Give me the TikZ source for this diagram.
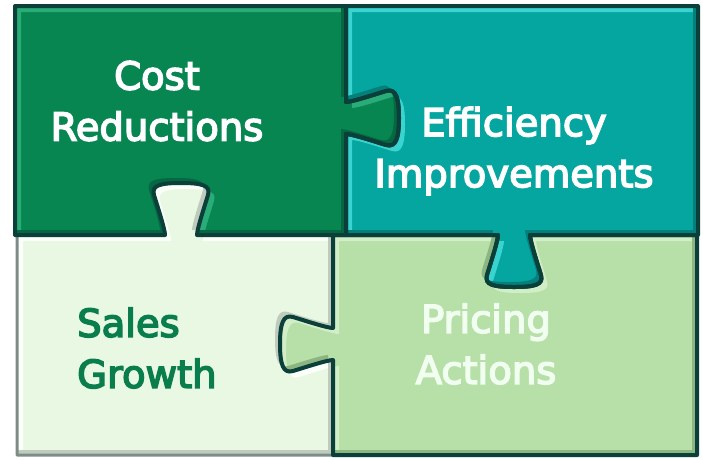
\documentclass[tikz,border=0pt]{standalone}
\usepackage{fontspec}
\newfontfamily\labelfont{DejaVu Sans}[FakeBold = 4]

\definecolor{costbase}{HTML}{078652}
\definecolor{costlight}{HTML}{2AAC78}
\definecolor{costdark}{HTML}{066842}
\definecolor{effbase}{HTML}{05A5A0}
\definecolor{efflight}{HTML}{3AD4D0}
\definecolor{effdark}{HTML}{04807C}
\definecolor{salesbase}{HTML}{E8F8E3}
\definecolor{saleslight}{HTML}{FBFFFA}
\definecolor{salesdark}{HTML}{BFCCBD}
\definecolor{pricebase}{HTML}{B7DFA8}
\definecolor{pricelight}{HTML}{D2EEC6}
\definecolor{pricedark}{HTML}{8DB582}
\definecolor{seam}{HTML}{0B3F3A}
\definecolor{salesrim}{HTML}{7E8C88}
\definecolor{salestext}{HTML}{0A7D4C}

% tab on a vertical edge: centre x, centre y, side (+1 right), run (+1 down)
\newcommand{\tabV}[4]{%
  -- ({#1},{#2-(#4)*16})
  .. controls ({#1+(#3)*6},{#2-(#4)*16}) and ({#1+(#3)*30},{#2-(#4)*24}) .. ({#1+(#3)*40},{#2-(#4)*27})
  .. controls ({#1+(#3)*50},{#2-(#4)*30}) and ({#1+(#3)*53},{#2-(#4)*20}) .. ({#1+(#3)*53},{#2})
  .. controls ({#1+(#3)*53},{#2+(#4)*20}) and ({#1+(#3)*50},{#2+(#4)*30}) .. ({#1+(#3)*40},{#2+(#4)*27})
  .. controls ({#1+(#3)*30},{#2+(#4)*24}) and ({#1+(#3)*6},{#2+(#4)*16}) .. ({#1},{#2+(#4)*16})}
% tab on a horizontal edge: centre x, centre y, side (+1 down), run (+1 right)
\newcommand{\tabH}[4]{%
  -- ({#1-(#4)*16},{#2})
  .. controls ({#1-(#4)*16},{#2+(#3)*6}) and ({#1-(#4)*24},{#2+(#3)*30}) .. ({#1-(#4)*27},{#2+(#3)*40})
  .. controls ({#1-(#4)*30},{#2+(#3)*50}) and ({#1-(#4)*20},{#2+(#3)*52}) .. ({#1},{#2+(#3)*52})
  .. controls ({#1+(#4)*20},{#2+(#3)*52}) and ({#1+(#4)*30},{#2+(#3)*50}) .. ({#1+(#4)*27},{#2+(#3)*40})
  .. controls ({#1+(#4)*24},{#2+(#3)*30}) and ({#1+(#4)*16},{#2+(#3)*6}) .. ({#1+(#4)*16},{#2})}

\newcommand{\costpath}{(15,6) -- (346,6) \tabV{346}{118}{1}{1} -- (346,235) \tabH{181}{235}{-1}{-1} -- (15,235) -- cycle}
\newcommand{\effpath}{(346,6) -- (698,6) -- (698,235) \tabH{514}{235}{1}{-1} -- (346,235) \tabV{346}{118}{1}{-1} -- cycle}
\newcommand{\salespath}{(17,235) \tabH{181}{235}{-1}{1} -- (333,235) \tabV{333}{344}{-1}{1} -- (333,455) -- (17,455) -- cycle}
\newcommand{\pricepath}{(333,235) \tabH{514}{235}{1}{1} -- (697,235) -- (697,455) -- (333,455) \tabV{333}{344}{-1}{-1} -- cycle}

% fill a piece and give it a bevelled edge
\newcommand{\bevelpiece}[4]{%
  \begin{scope}
    \clip #1;
    \fill[#2] #1;
    \begin{scope}[shift={(6,6)}]
      \fill[#3, even odd rule] (-50,-50) rectangle (760,520) #1;
    \end{scope}
    \begin{scope}[shift={(-5,-5)}]
      \fill[#4, even odd rule] (-50,-50) rectangle (760,520) #1;
    \end{scope}
  \end{scope}}

\begin{document}
\begin{tikzpicture}
      [x = 1pt, y = -1pt,
      rim/.style = {
         draw = seam,
         line width = 4,
         line join = round
      },
      caption/.style = {
         font = \labelfont\fontsize{38.5}{51}\selectfont,
         text = white,
         align = center,
         inner sep = 0pt
      }]

      \useasboundingbox[fill = white] (0,0) rectangle (703,459);

      \bevelpiece{\salespath}{salesbase}{saleslight}{salesdark}
      \bevelpiece{\pricepath}{pricebase}{pricelight}{pricedark}
      \bevelpiece{\costpath}{costbase}{costlight}{costdark}
      \bevelpiece{\effpath}{effbase}{efflight}{effdark}

      \draw[rim, draw = salesrim, line width = 3] \salespath;
      \draw[rim] \pricepath;
      \draw[rim] \costpath;
      \draw[rim] \effpath;

      \node[caption] (cost) at (157,101) {Cost\\Reductions};
      \node[caption] (eff) at (514,151) {Efficiency\\Improvements};
      \node[caption, text = salestext, align = left, anchor = west] (sales) at (77,348) {Sales\\Growth};
      \node[caption, text = white!94!green] (price) at (486,344) {Pricing\\Actions};

   \end{tikzpicture}
\end{document}
